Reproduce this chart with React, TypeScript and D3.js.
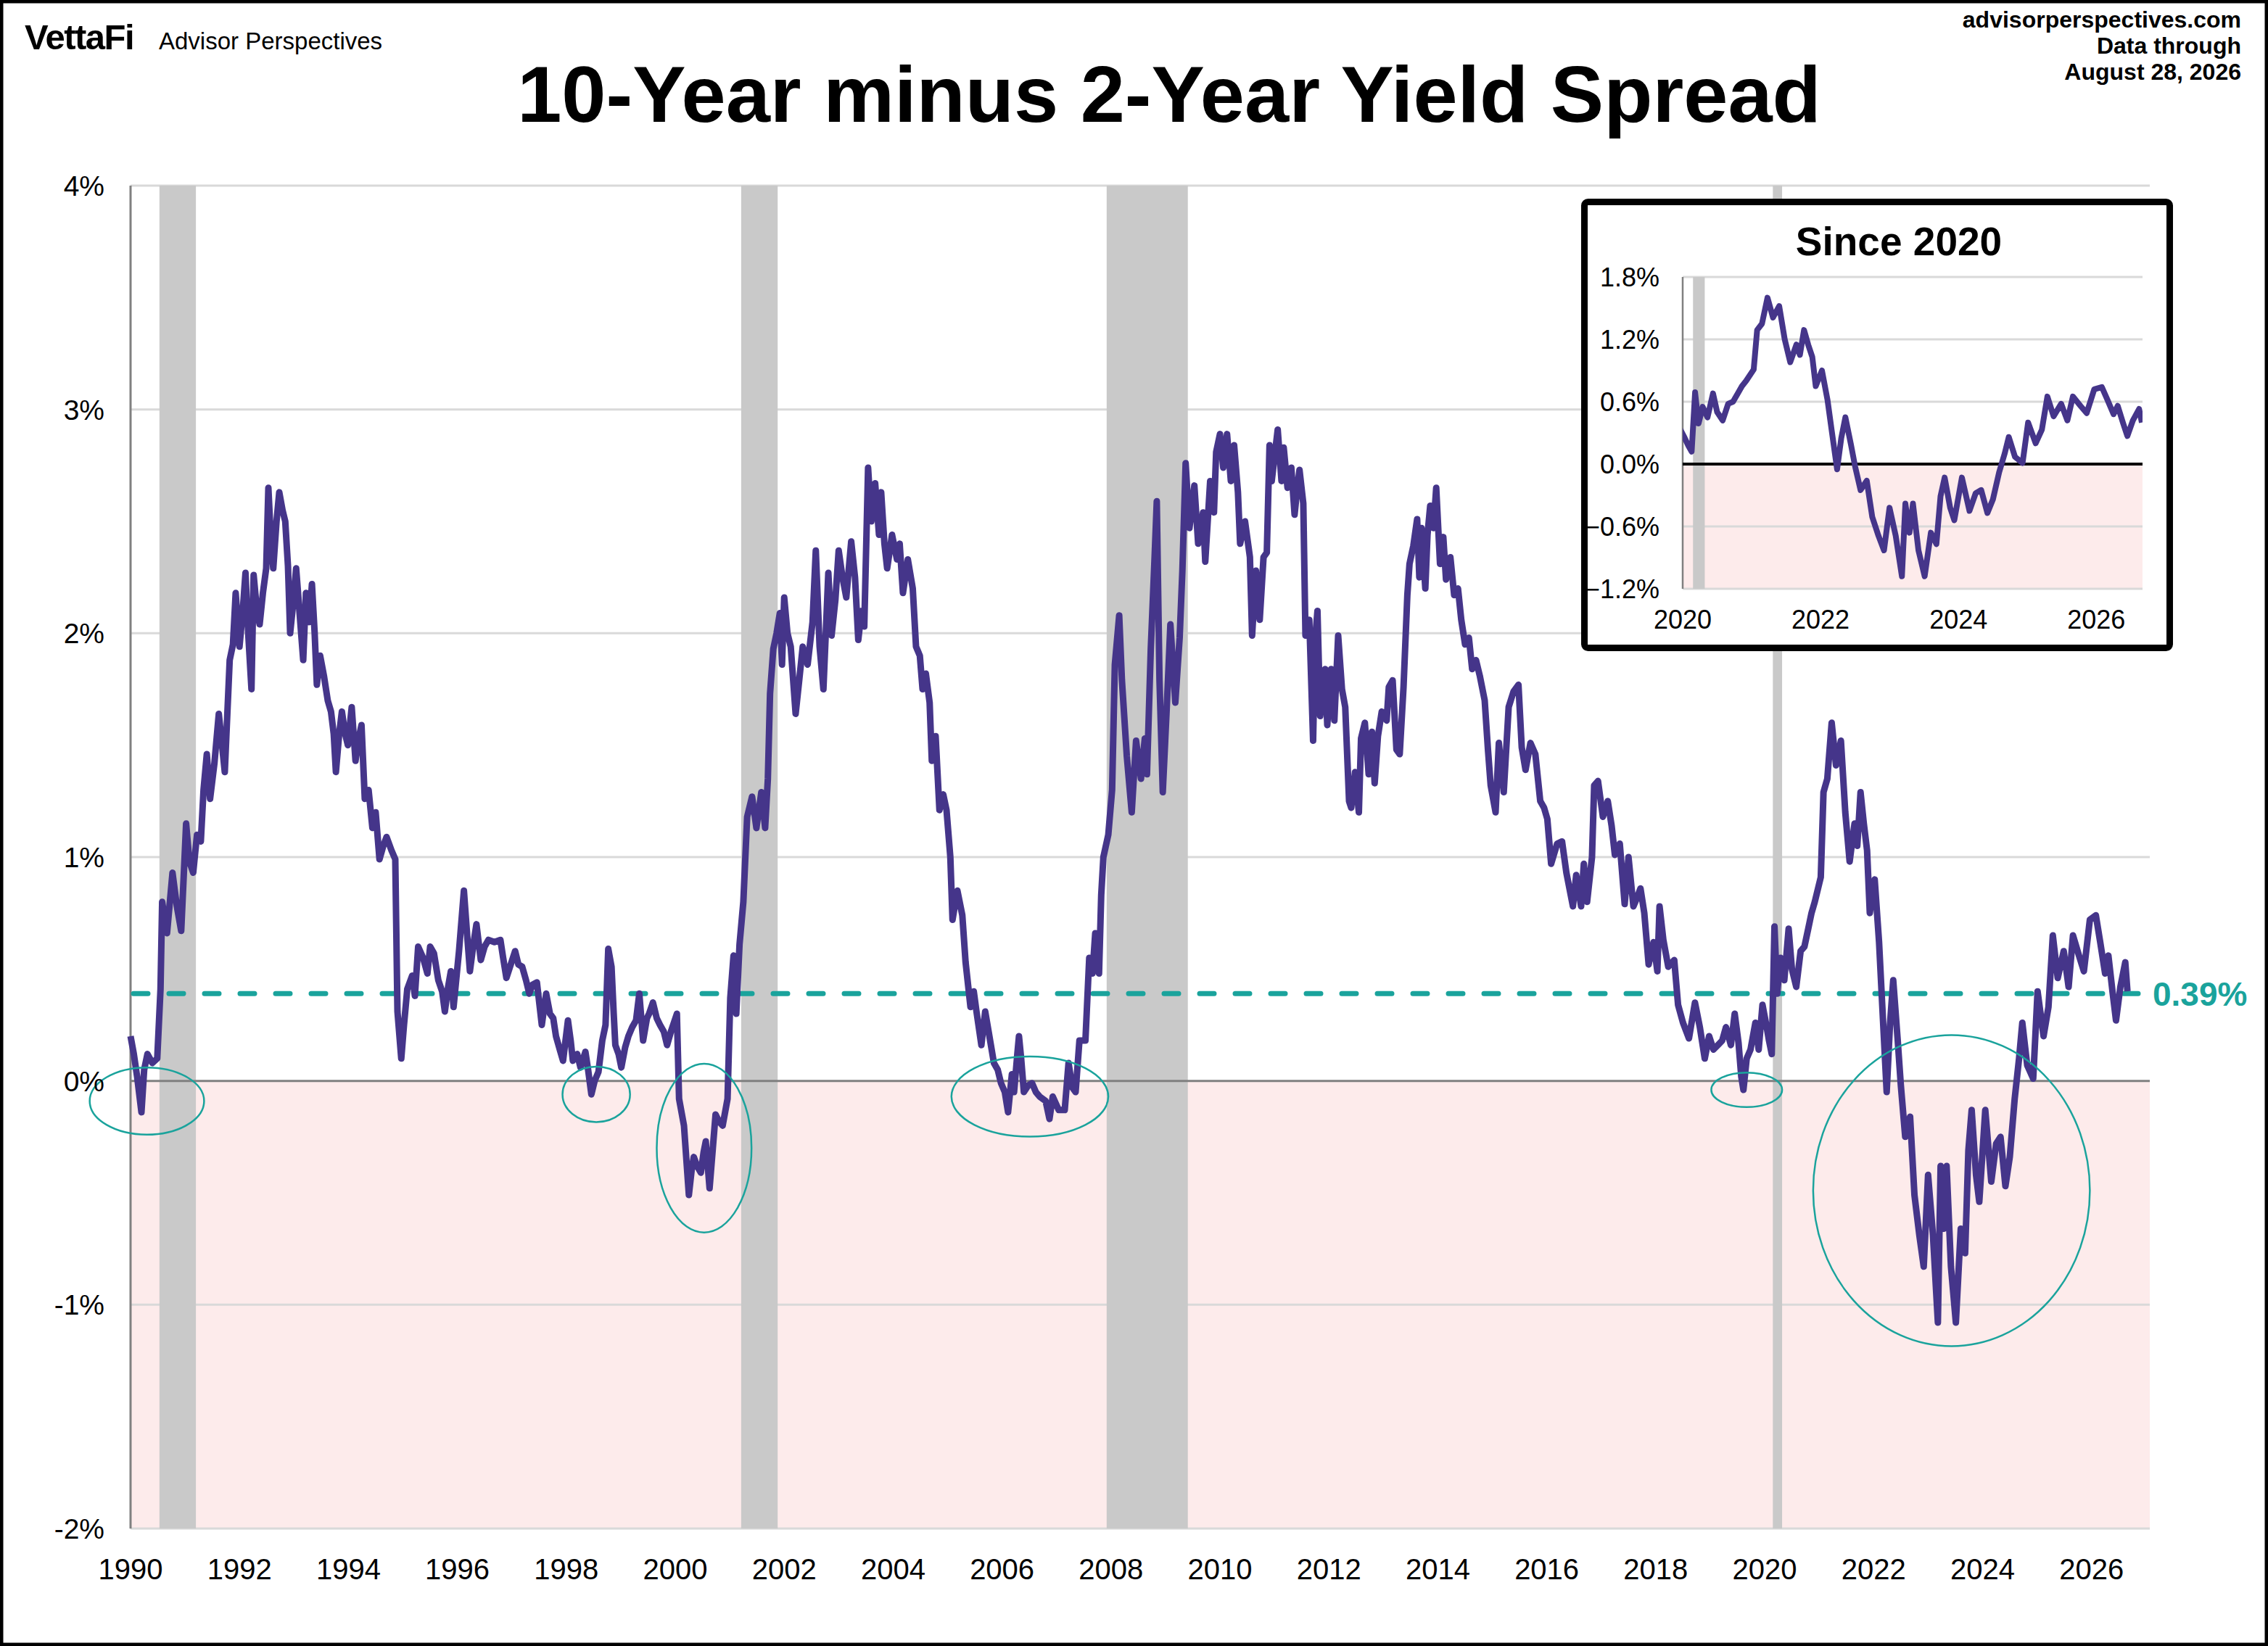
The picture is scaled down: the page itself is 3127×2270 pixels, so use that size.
import * as d3 from "d3";
import React, { useEffect, useRef } from "react";

// 10-year minus 2-year treasury spread, [decimal year, spread in %]
type Pt = [number, number];

const spread1990s: Pt[] = [
  [1990.0, 0.2], [1990.06, 0.12], [1990.12, 0.02], [1990.2, -0.14], [1990.25, 0.05], [1990.31, 0.12],
  [1990.4, 0.08], [1990.49, 0.1], [1990.55, 0.41], [1990.58, 0.8], [1990.67, 0.66], [1990.77, 0.93],
  [1990.85, 0.78], [1990.93, 0.67], [1991.02, 1.15], [1991.08, 0.98], [1991.15, 0.93], [1991.22, 1.1],
  [1991.29, 1.07], [1991.34, 1.3], [1991.4, 1.46], [1991.46, 1.26], [1991.54, 1.42], [1991.62, 1.64],
  [1991.68, 1.5], [1991.73, 1.38], [1991.82, 1.88], [1991.88, 1.95], [1991.93, 2.18], [1992.0, 1.94],
  [1992.06, 2.1], [1992.11, 2.27], [1992.16, 2.0], [1992.22, 1.75], [1992.26, 2.26], [1992.32, 2.1],
  [1992.37, 2.04], [1992.43, 2.18], [1992.49, 2.29], [1992.53, 2.65], [1992.58, 2.4], [1992.62, 2.29],
  [1992.68, 2.5], [1992.73, 2.63], [1992.79, 2.55], [1992.84, 2.5], [1992.89, 2.3], [1992.93, 2.0],
  [1992.98, 2.12], [1993.04, 2.29], [1993.1, 2.1], [1993.17, 1.88], [1993.22, 2.18], [1993.28, 2.05],
  [1993.33, 2.22], [1993.38, 2.0], [1993.42, 1.77], [1993.48, 1.9], [1993.55, 1.81], [1993.62, 1.7],
  [1993.68, 1.65], [1993.73, 1.55], [1993.77, 1.38], [1993.83, 1.55], [1993.88, 1.65], [1993.94, 1.55],
  [1993.99, 1.5], [1994.06, 1.67], [1994.13, 1.43], [1994.18, 1.52], [1994.24, 1.59], [1994.3, 1.26],
  [1994.37, 1.3], [1994.44, 1.13], [1994.5, 1.2], [1994.57, 0.99], [1994.64, 1.05], [1994.7, 1.09],
  [1994.79, 1.03], [1994.86, 0.99], [1994.9, 0.31], [1994.97, 0.1], [1995.02, 0.25], [1995.08, 0.41],
  [1995.17, 0.47], [1995.22, 0.38], [1995.28, 0.6], [1995.37, 0.55], [1995.45, 0.48], [1995.5, 0.6],
  [1995.57, 0.57], [1995.65, 0.45], [1995.72, 0.4], [1995.77, 0.31], [1995.83, 0.42], [1995.88, 0.49],
  [1995.93, 0.33], [1996.03, 0.58], [1996.12, 0.85], [1996.18, 0.65], [1996.23, 0.49], [1996.3, 0.62],
  [1996.35, 0.7], [1996.43, 0.54], [1996.5, 0.6], [1996.57, 0.63], [1996.68, 0.62], [1996.79, 0.63],
  [1996.84, 0.55], [1996.9, 0.46], [1996.98, 0.52], [1997.06, 0.58], [1997.12, 0.52], [1997.19, 0.51],
  [1997.26, 0.45], [1997.32, 0.39], [1997.38, 0.43], [1997.46, 0.44], [1997.55, 0.25], [1997.63, 0.39],
  [1997.7, 0.3], [1997.76, 0.28], [1997.81, 0.2], [1997.88, 0.14], [1997.94, 0.09], [1998.03, 0.27],
  [1998.08, 0.18], [1998.12, 0.09], [1998.2, 0.12], [1998.26, 0.06], [1998.35, 0.13], [1998.4, 0.05],
  [1998.46, -0.06], [1998.52, 0.0], [1998.59, 0.04], [1998.66, 0.18], [1998.72, 0.25], [1998.77, 0.59],
  [1998.83, 0.51], [1998.87, 0.3], [1998.9, 0.16], [1998.96, 0.12], [1999.01, 0.06], [1999.08, 0.15],
  [1999.14, 0.2], [1999.21, 0.24], [1999.28, 0.27], [1999.34, 0.39], [1999.41, 0.18], [1999.48, 0.28],
  [1999.52, 0.3], [1999.59, 0.35], [1999.66, 0.28], [1999.72, 0.25], [1999.79, 0.22], [1999.85, 0.16],
  [1999.92, 0.22],
];

const spread2000s: Pt[] = [
  [2000.03, 0.3], [2000.07, -0.08], [2000.16, -0.2], [2000.25, -0.51], [2000.3, -0.4], [2000.34, -0.34],
  [2000.4, -0.38], [2000.47, -0.41], [2000.52, -0.32], [2000.56, -0.27], [2000.63, -0.48], [2000.69, -0.3],
  [2000.74, -0.15], [2000.8, -0.18], [2000.87, -0.2], [2000.96, -0.08], [2001.01, 0.37], [2001.07, 0.56],
  [2001.12, 0.3], [2001.18, 0.61], [2001.25, 0.8], [2001.32, 1.18], [2001.41, 1.27], [2001.49, 1.13],
  [2001.58, 1.29], [2001.65, 1.13], [2001.7, 1.35], [2001.74, 1.73], [2001.8, 1.93], [2001.86, 2.0],
  [2001.92, 2.09], [2001.96, 1.86], [2002.0, 2.16], [2002.06, 2.0], [2002.12, 1.94], [2002.21, 1.64],
  [2002.28, 1.8], [2002.34, 1.94], [2002.43, 1.86], [2002.52, 2.05], [2002.58, 2.37], [2002.65, 1.94],
  [2002.72, 1.75], [2002.81, 2.27], [2002.87, 1.99], [2002.94, 2.15], [2003.0, 2.37], [2003.07, 2.25],
  [2003.14, 2.16], [2003.23, 2.41], [2003.3, 2.25], [2003.36, 1.97], [2003.42, 2.1], [2003.47, 2.03],
  [2003.54, 2.74], [2003.6, 2.5], [2003.67, 2.67], [2003.74, 2.44], [2003.78, 2.63], [2003.84, 2.4],
  [2003.89, 2.29], [2003.98, 2.44], [2004.07, 2.33], [2004.12, 2.4], [2004.18, 2.18], [2004.27, 2.33],
  [2004.36, 2.2], [2004.42, 1.94], [2004.49, 1.9], [2004.54, 1.75], [2004.6, 1.82], [2004.67, 1.69],
  [2004.71, 1.43], [2004.78, 1.54], [2004.85, 1.21], [2004.92, 1.28], [2004.98, 1.21], [2005.05, 1.0],
  [2005.09, 0.72], [2005.18, 0.85], [2005.27, 0.74], [2005.33, 0.53], [2005.42, 0.33], [2005.48, 0.4],
  [2005.53, 0.31], [2005.62, 0.16], [2005.69, 0.31], [2005.76, 0.21], [2005.85, 0.08], [2005.92, 0.05],
  [2005.98, -0.01], [2006.05, -0.05], [2006.11, -0.14], [2006.18, 0.03], [2006.22, -0.05], [2006.28, 0.12],
  [2006.31, 0.2], [2006.35, 0.1], [2006.4, -0.05], [2006.48, -0.02], [2006.55, -0.01], [2006.62, -0.05],
  [2006.69, -0.07], [2006.8, -0.09], [2006.87, -0.17], [2006.93, -0.07], [2007.04, -0.13], [2007.15, -0.13],
  [2007.22, 0.08], [2007.29, -0.03], [2007.35, -0.05], [2007.42, 0.18], [2007.53, 0.18], [2007.6, 0.55],
  [2007.66, 0.48], [2007.71, 0.66], [2007.78, 0.48], [2007.82, 0.83], [2007.86, 1.0], [2007.95, 1.1],
  [2008.02, 1.3], [2008.07, 1.86], [2008.15, 2.08], [2008.2, 1.79], [2008.29, 1.45], [2008.38, 1.2],
  [2008.46, 1.52], [2008.55, 1.35], [2008.62, 1.53], [2008.66, 1.37], [2008.73, 1.93], [2008.8, 2.34],
  [2008.84, 2.59], [2008.89, 1.79], [2008.95, 1.29], [2009.02, 1.65], [2009.09, 2.04], [2009.18, 1.69],
  [2009.26, 1.98], [2009.31, 2.28], [2009.37, 2.76], [2009.44, 2.47], [2009.53, 2.66], [2009.6, 2.4],
  [2009.69, 2.54], [2009.73, 2.32], [2009.82, 2.68], [2009.89, 2.54], [2009.93, 2.81],
];

const spread2010s: Pt[] = [
  [2010.0, 2.89], [2010.06, 2.74], [2010.13, 2.89], [2010.2, 2.68], [2010.26, 2.84], [2010.33, 2.63],
  [2010.37, 2.4], [2010.46, 2.5], [2010.55, 2.34], [2010.59, 1.99], [2010.66, 2.28], [2010.73, 2.06],
  [2010.8, 2.34], [2010.86, 2.36], [2010.91, 2.84], [2010.95, 2.68], [2011.06, 2.91], [2011.13, 2.68],
  [2011.17, 2.83], [2011.24, 2.65], [2011.31, 2.74], [2011.37, 2.53], [2011.42, 2.65], [2011.46, 2.73],
  [2011.53, 2.58], [2011.57, 1.99], [2011.64, 2.06], [2011.71, 1.52], [2011.75, 1.98], [2011.79, 2.1],
  [2011.84, 1.63], [2011.93, 1.84], [2011.97, 1.59], [2012.04, 1.84], [2012.1, 1.61], [2012.17, 1.99],
  [2012.24, 1.75], [2012.3, 1.67], [2012.37, 1.25], [2012.41, 1.22], [2012.48, 1.38], [2012.55, 1.2],
  [2012.59, 1.53], [2012.66, 1.6], [2012.73, 1.37], [2012.79, 1.56], [2012.84, 1.33], [2012.9, 1.54],
  [2012.97, 1.65], [2013.06, 1.61], [2013.1, 1.76], [2013.17, 1.79], [2013.24, 1.48], [2013.3, 1.46],
  [2013.37, 1.76], [2013.44, 2.17], [2013.48, 2.31], [2013.55, 2.39], [2013.62, 2.51], [2013.66, 2.25],
  [2013.7, 2.47], [2013.77, 2.2], [2013.81, 2.44], [2013.86, 2.57], [2013.92, 2.47], [2013.97, 2.65],
  [2014.04, 2.31], [2014.1, 2.43], [2014.15, 2.24], [2014.23, 2.34], [2014.3, 2.17], [2014.37, 2.2],
  [2014.43, 2.06], [2014.5, 1.95], [2014.57, 1.98], [2014.63, 1.84], [2014.7, 1.88], [2014.77, 1.81],
  [2014.86, 1.7], [2014.92, 1.48], [2014.97, 1.32], [2015.06, 1.2], [2015.12, 1.51], [2015.21, 1.29],
  [2015.3, 1.67], [2015.39, 1.74], [2015.48, 1.77], [2015.54, 1.49], [2015.61, 1.39], [2015.7, 1.51],
  [2015.79, 1.46], [2015.88, 1.25], [2015.95, 1.22], [2016.01, 1.17], [2016.08, 0.97], [2016.19, 1.06],
  [2016.28, 1.07], [2016.36, 0.93], [2016.48, 0.78], [2016.54, 0.92], [2016.63, 0.78], [2016.68, 0.97],
  [2016.74, 0.8], [2016.83, 1.0], [2016.87, 1.32], [2016.94, 1.34], [2017.03, 1.18], [2017.12, 1.25],
  [2017.19, 1.14], [2017.25, 1.01], [2017.34, 1.06], [2017.43, 0.79], [2017.5, 1.0], [2017.59, 0.78],
  [2017.66, 0.82], [2017.72, 0.86], [2017.79, 0.75], [2017.87, 0.52], [2017.96, 0.62], [2018.03, 0.49],
  [2018.07, 0.78], [2018.14, 0.63], [2018.23, 0.51], [2018.34, 0.54], [2018.41, 0.34], [2018.5, 0.26],
  [2018.61, 0.19], [2018.72, 0.35], [2018.81, 0.24], [2018.9, 0.1], [2018.98, 0.2], [2019.06, 0.14],
  [2019.14, 0.16], [2019.22, 0.18], [2019.29, 0.24], [2019.38, 0.16], [2019.45, 0.3], [2019.52, 0.17],
  [2019.57, 0.02], [2019.61, -0.04], [2019.67, 0.1], [2019.74, 0.14], [2019.83, 0.26], [2019.89, 0.14],
  [2019.96, 0.34],
];

const spread2020s: Pt[] = [
  [2020.03, 0.25], [2020.08, 0.18], [2020.13, 0.12], [2020.18, 0.69], [2020.23, 0.39], [2020.29, 0.55],
  [2020.36, 0.45], [2020.44, 0.68], [2020.5, 0.5], [2020.58, 0.42], [2020.66, 0.58], [2020.73, 0.6],
  [2020.8, 0.68], [2020.86, 0.75], [2020.92, 0.8], [2021.03, 0.91], [2021.08, 1.29], [2021.15, 1.35],
  [2021.23, 1.6], [2021.31, 1.41], [2021.4, 1.52], [2021.48, 1.2], [2021.56, 0.98], [2021.65, 1.15],
  [2021.7, 1.05], [2021.76, 1.29], [2021.82, 1.15], [2021.88, 1.03], [2021.93, 0.75], [2022.02, 0.9],
  [2022.1, 0.62], [2022.16, 0.33], [2022.24, -0.05], [2022.3, 0.25], [2022.36, 0.45], [2022.44, 0.19],
  [2022.5, -0.02], [2022.58, -0.25], [2022.67, -0.16], [2022.75, -0.51], [2022.84, -0.69], [2022.92, -0.83],
  [2023.0, -0.42], [2023.09, -0.69], [2023.18, -1.08], [2023.23, -0.38], [2023.29, -0.66], [2023.34, -0.38],
  [2023.42, -0.83], [2023.51, -1.08], [2023.6, -0.66], [2023.68, -0.77], [2023.74, -0.31], [2023.8, -0.13],
  [2023.88, -0.42], [2023.94, -0.54], [2024.05, -0.13], [2024.16, -0.45], [2024.25, -0.28], [2024.33, -0.25],
  [2024.42, -0.47], [2024.5, -0.34], [2024.59, -0.08], [2024.67, 0.1], [2024.73, 0.26], [2024.82, 0.07],
  [2024.93, 0.01], [2025.01, 0.4], [2025.12, 0.2], [2025.21, 0.33], [2025.29, 0.65], [2025.38, 0.46],
  [2025.49, 0.58], [2025.58, 0.42], [2025.66, 0.65], [2025.77, 0.56], [2025.86, 0.49], [2025.97, 0.72],
  [2026.08, 0.74], [2026.16, 0.62], [2026.25, 0.48], [2026.31, 0.56], [2026.39, 0.39], [2026.45, 0.27],
  [2026.53, 0.42], [2026.62, 0.53], [2026.66, 0.4],
];

// NBER recessions [start, end] in decimal years
const recessions: [number, number][] = [
  [1990.53, 1991.2],
  [2001.21, 2001.88],
  [2007.92, 2009.41],
  [2020.15, 2020.32],
];

const averageSpread = 0.39;

// circled inversions: [center year, center %, half width in years, half height in %]
const inversionCircles: [number, number, number, number][] = [
  [1990.3, -0.09, 1.05, 0.15],
  [1998.55, -0.06, 0.62, 0.124],
  [2000.53, -0.3, 0.87, 0.377],
  [2006.51, -0.07, 1.44, 0.179],
  [2019.67, -0.04, 0.65, 0.077],
  [2023.43, -0.49, 2.54, 0.695],
];

const yTicks = [-2, -1, 0, 1, 2, 3, 4];
const xTicks = [1990, 1992, 1994, 1996, 1998, 2000, 2002, 2004, 2006, 2008, 2010, 2012, 2014, 2016, 2018, 2020, 2022, 2024, 2026];
const insetYTicks = [-1.2, -0.6, 0, 0.6, 1.2, 1.8];
const insetXTicks = [2020, 2022, 2024, 2026];

const W = 3127;
const H = 2270;
const FONT = "'Liberation Sans', Arial, Helvetica, sans-serif";
const LINE = "#45358a";
const TEAL = "#1aa39c";
const PINK = "#fdebeb";
const GRID = "#d9d9d9";
const BAND = "#c9c9c9";

const SpreadChart: React.FC = () => {
  const ref = useRef<SVGSVGElement | null>(null);

  useEffect(() => {
    if (!ref.current) return;
    const svg = d3.select(ref.current);
    svg.selectAll("*").remove();

    const data = [...spread1990s, ...spread2000s, ...spread2010s, ...spread2020s];

    svg.append("rect").attr("width", W).attr("height", H).attr("fill", "white");

    // ---------- main chart ----------
    const m = { left: 180, right: 2964, top: 256, bottom: 2108 };
    const x = d3.scaleLinear().domain([1990, 2027.07]).range([m.left, m.right]);
    const y = d3.scaleLinear().domain([-2, 4]).range([m.bottom, m.top]);

    const g = svg.append("g");

    // negative zone
    g.append("rect")
      .attr("x", m.left)
      .attr("y", y(0))
      .attr("width", m.right - m.left)
      .attr("height", y(-2) - y(0))
      .attr("fill", PINK);

    // gridlines
    g.selectAll(".grid")
      .data(yTicks.filter((d) => d !== 0))
      .enter()
      .append("line")
      .attr("x1", m.left)
      .attr("x2", m.right)
      .attr("y1", (d) => y(d))
      .attr("y2", (d) => y(d))
      .attr("stroke", GRID)
      .attr("stroke-width", 3);

    // recession bands
    g.selectAll(".band")
      .data(recessions)
      .enter()
      .append("rect")
      .attr("x", (d) => x(d[0]))
      .attr("y", m.top)
      .attr("width", (d) => x(d[1]) - x(d[0]))
      .attr("height", m.bottom - m.top)
      .attr("fill", BAND);

    // zero line and left axis
    g.append("line")
      .attr("x1", m.left).attr("x2", m.right)
      .attr("y1", y(0)).attr("y2", y(0))
      .attr("stroke", "#808080").attr("stroke-width", 3);
    g.append("line")
      .attr("x1", m.left).attr("x2", m.left)
      .attr("y1", m.top).attr("y2", m.bottom)
      .attr("stroke", "#808080").attr("stroke-width", 3);

    // average line
    g.append("line")
      .attr("x1", m.left + 4)
      .attr("x2", m.right - 10)
      .attr("y1", y(averageSpread))
      .attr("y2", y(averageSpread))
      .attr("stroke", TEAL)
      .attr("stroke-width", 7)
      .attr("stroke-linecap", "round")
      .attr("stroke-dasharray", "20 29");

    g.append("text")
      .attr("x", m.right + 4)
      .attr("y", y(averageSpread))
      .attr("dy", "0.36em")
      .attr("font-family", FONT)
      .attr("font-weight", "bold")
      .attr("font-size", 46)
      .attr("fill", TEAL)
      .text(`${averageSpread.toFixed(2)}%`);

    // spread line
    const line = d3
      .line<Pt>()
      .x((d) => x(d[0]))
      .y((d) => y(d[1]));

    g.append("path")
      .datum(data)
      .attr("d", line)
      .attr("fill", "none")
      .attr("stroke", LINE)
      .attr("stroke-width", 9)
      .attr("stroke-linejoin", "round");

    // inversion circles
    g.selectAll(".circ")
      .data(inversionCircles)
      .enter()
      .append("ellipse")
      .attr("cx", (d) => x(d[0]))
      .attr("cy", (d) => y(d[1]))
      .attr("rx", (d) => x(d[0] + d[2]) - x(d[0]))
      .attr("ry", (d) => y(d[1] - d[3]) - y(d[1]))
      .attr("fill", "none")
      .attr("stroke", TEAL)
      .attr("stroke-width", 2.5);

    // axis labels
    g.selectAll(".ylab")
      .data(yTicks)
      .enter()
      .append("text")
      .attr("x", 144)
      .attr("y", (d) => y(d))
      .attr("dy", "0.36em")
      .attr("text-anchor", "end")
      .attr("font-family", FONT)
      .attr("font-size", 39)
      .text((d) => `${d}%`);

    g.selectAll(".xlab")
      .data(xTicks)
      .enter()
      .append("text")
      .attr("x", (d) => x(d))
      .attr("y", 2178)
      .attr("text-anchor", "middle")
      .attr("font-family", FONT)
      .attr("font-size", 40)
      .text((d) => d);

    // ---------- header ----------
    svg.append("text")
      .attr("x", 1612)
      .attr("y", 168)
      .attr("text-anchor", "middle")
      .attr("font-family", FONT)
      .attr("font-weight", "bold")
      .attr("font-size", 110)
      .text("10-Year minus 2-Year Yield Spread");

    svg.append("text")
      .attr("x", 34)
      .attr("y", 68)
      .attr("font-family", FONT)
      .attr("font-weight", "bold")
      .attr("font-size", 49)
      .attr("letter-spacing", -1.5)
      .text("VettaFi");
    svg.append("text")
      .attr("x", 219)
      .attr("y", 68)
      .attr("font-family", FONT)
      .attr("font-size", 33)
      .text("Advisor Perspectives");

    ["advisorperspectives.com", "Data through", "August 28, 2026"].forEach((t, i) => {
      svg.append("text")
        .attr("x", 3090)
        .attr("y", 38 + i * 36)
        .attr("text-anchor", "end")
        .attr("font-family", FONT)
        .attr("font-weight", "bold")
        .attr("font-size", 32)
        .text(t);
    });

    // ---------- inset ----------
    const box = { left: 2180, right: 2996, top: 274, bottom: 898 };
    const im = { left: 2320, right: 2954, top: 382, bottom: 812 };
    const ix = d3.scaleLinear().domain([2020, 2026.67]).range([im.left, im.right]);
    const iy = d3.scaleLinear().domain([-1.2, 1.8]).range([im.bottom, im.top]);

    const ig = svg.append("g");
    ig.append("rect")
      .attr("x", box.left + 4.5)
      .attr("y", box.top + 4.5)
      .attr("width", box.right - box.left - 9)
      .attr("height", box.bottom - box.top - 9)
      .attr("rx", 5)
      .attr("fill", "white")
      .attr("stroke", "black")
      .attr("stroke-width", 9);

    ig.append("text")
      .attr("x", 2618)
      .attr("y", 352)
      .attr("text-anchor", "middle")
      .attr("font-family", FONT)
      .attr("font-weight", "bold")
      .attr("font-size", 55)
      .text("Since 2020");

    ig.append("rect")
      .attr("x", im.left)
      .attr("y", iy(0))
      .attr("width", im.right - im.left)
      .attr("height", iy(-1.2) - iy(0))
      .attr("fill", PINK);

    ig.selectAll(".igrid")
      .data(insetYTicks.filter((d) => d !== 0))
      .enter()
      .append("line")
      .attr("x1", im.left)
      .attr("x2", im.right)
      .attr("y1", (d) => iy(d))
      .attr("y2", (d) => iy(d))
      .attr("stroke", GRID)
      .attr("stroke-width", 3);

    ig.selectAll(".iband")
      .data(recessions.filter((d) => d[1] > 2020))
      .enter()
      .append("rect")
      .attr("x", (d) => ix(Math.max(d[0], 2020)))
      .attr("y", im.top)
      .attr("width", (d) => ix(d[1]) - ix(Math.max(d[0], 2020)))
      .attr("height", im.bottom - im.top)
      .attr("fill", BAND);

    ig.append("line")
      .attr("x1", im.left).attr("x2", im.left)
      .attr("y1", im.top).attr("y2", im.bottom)
      .attr("stroke", "#808080").attr("stroke-width", 2.5);

    ig.append("line")
      .attr("x1", im.left).attr("x2", im.right)
      .attr("y1", iy(0)).attr("y2", iy(0))
      .attr("stroke", "black").attr("stroke-width", 4);

    svg.append("clipPath")
      .attr("id", "inset-clip")
      .append("rect")
      .attr("x", im.left)
      .attr("y", im.top - 20)
      .attr("width", im.right - im.left)
      .attr("height", im.bottom - im.top + 40);

    const iline = d3
      .line<Pt>()
      .x((d) => ix(d[0]))
      .y((d) => iy(d[1]));

    ig.append("path")
      .datum(data.filter((d) => d[0] >= 2019.9))
      .attr("d", iline)
      .attr("clip-path", "url(#inset-clip)")
      .attr("fill", "none")
      .attr("stroke", LINE)
      .attr("stroke-width", 8)
      .attr("stroke-linejoin", "round");

    ig.selectAll(".iylab")
      .data(insetYTicks)
      .enter()
      .append("text")
      .attr("x", 2288)
      .attr("y", (d) => iy(d))
      .attr("dy", "0.36em")
      .attr("text-anchor", "end")
      .attr("font-family", FONT)
      .attr("font-size", 36)
      .text((d) => `${d3.format(".1f")(d)}%`);

    ig.selectAll(".ixlab")
      .data(insetXTicks)
      .enter()
      .append("text")
      .attr("x", (d) => ix(d))
      .attr("y", 867)
      .attr("text-anchor", "middle")
      .attr("font-family", FONT)
      .attr("font-size", 36)
      .text((d) => d);

    // outer frame
    svg.append("rect")
      .attr("x", 2)
      .attr("y", 2)
      .attr("width", W - 4)
      .attr("height", H - 4)
      .attr("fill", "none")
      .attr("stroke", "black")
      .attr("stroke-width", 5);
  }, []);

  return (
    <svg
      ref={ref}
      width={W}
      height={H}
      style={{ position: "absolute", left: 0, top: 0 }}
    ></svg>
  );
};

export default function App() {
  return <SpreadChart />;
}
